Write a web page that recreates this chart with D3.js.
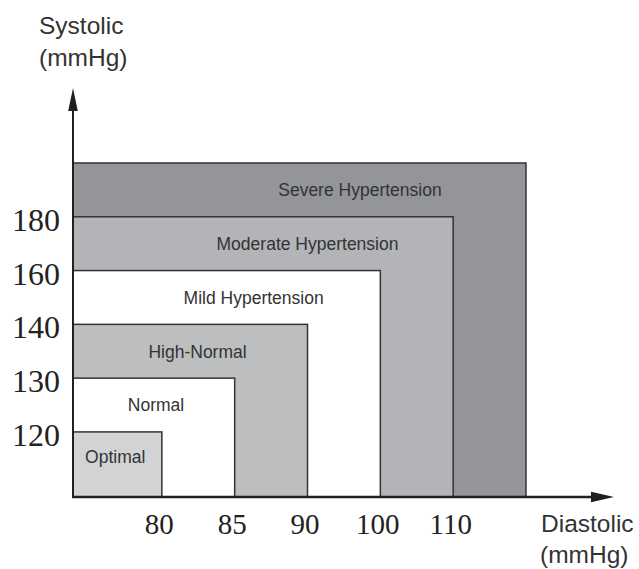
<!DOCTYPE html>
<html>
<head>
<meta charset="utf-8">
<script src="https://cdn.jsdelivr.net/npm/d3@7"></script>
<style>
  html, body { margin: 0; padding: 0; background: #fff; }
  svg { display: block; }
</style>
</head>
<body>
<svg id="chart" width="639" height="569"></svg>
<script>
// ---- data ----
const categories = ["Optimal", "Normal", "High-Normal", "Mild Hypertension", "Moderate Hypertension", "Severe Hypertension"];
const diastolicTicks = ["80", "85", "90", "100", "110"];
const systolicTicks = ["120", "130", "140", "160", "180"];
// upper bound index of each category (index into the tick lists; 5 = open-ended outer bound)
const upperIndex = [0, 1, 2, 3, 4, 5];

// ---- styles / layout ----
const fills = ["#d1d3d4", "#ffffff", "#bcbec0", "#ffffff", "#b2b4b7", "#939598"];
const labelXIndex = [-0.64, -0.08, 0.49, 1.26, 2.0, 2.72];
const labelYNudge = [-8, 0, 0, 0, 0, 0];
const sans = "'Liberation Sans', Arial, Helvetica, sans-serif";
const serif = "'Liberation Serif', 'Times New Roman', serif";
const ink = "#333";

const svg = d3.select("#chart");
const x0 = 73, x1 = 526, y0 = 497, y1 = 163;
const x = d3.scaleLinear().domain([-1.22, 5]).range([x0, x1]);
const y = d3.scaleLinear().domain([-1.21, 5]).range([y0, y1]);

// rectangles, largest first
const order = d3.range(categories.length).reverse();
svg.append("g").selectAll("rect")
  .data(order)
  .join("rect")
  .attr("x", x.range()[0])
  .attr("y", i => y(upperIndex[i]))
  .attr("width", i => x(upperIndex[i]) - x.range()[0])
  .attr("height", i => y.range()[0] - y(upperIndex[i]))
  .attr("fill", i => fills[i])
  .attr("stroke", ink)
  .attr("stroke-width", 1.5);

// category labels
svg.append("g").selectAll("text")
  .data(d3.range(categories.length))
  .join("text")
  .attr("x", i => x(labelXIndex[i]))
  .attr("y", i => {
    const lo = i === 0 ? y.range()[0] : y(upperIndex[i - 1]);
    return (lo + y(upperIndex[i])) / 2 + labelYNudge[i];
  })
  .attr("dy", "0.36em")
  .attr("text-anchor", "middle")
  .attr("font-family", sans)
  .attr("font-size", 17.5)
  .attr("fill", ink)
  .text(i => categories[i]);

// axes (ticks via d3 axes)
const xAxis = d3.axisBottom(x)
  .tickValues(d3.range(diastolicTicks.length))
  .tickFormat(i => diastolicTicks[i])
  .tickSize(0).tickPadding(16);
const gx = svg.append("g").attr("transform", `translate(0,${y0})`).call(xAxis);
gx.select(".domain").remove();
gx.selectAll("text")
  .attr("font-family", serif).attr("font-size", 29).attr("fill", "#222")
  .attr("dx", -3);

const yAxis = d3.axisLeft(y)
  .tickValues(d3.range(systolicTicks.length))
  .tickFormat(i => systolicTicks[i])
  .tickSize(0).tickPadding(13);
const gy = svg.append("g").attr("transform", `translate(${x0},0)`).call(yAxis);
gy.select(".domain").remove();
gy.selectAll("text")
  .attr("font-family", serif).attr("font-size", 32).attr("fill", "#222")
  .attr("dy", "0.42em");

// axis lines with arrows
const axisInk = "#231f20";
svg.append("line").attr("x1", x0).attr("y1", y0).attr("x2", x0).attr("y2", 108)
  .attr("stroke", axisInk).attr("stroke-width", 2);
svg.append("line").attr("x1", x0 - 1).attr("y1", y0).attr("x2", 594).attr("y2", y0)
  .attr("stroke", axisInk).attr("stroke-width", 2.3);
svg.append("path")
  .attr("d", `M${x0},88 L${x0 + 4.8},111 L${x0 - 4.8},111 Z`)
  .attr("fill", axisInk);
svg.append("path")
  .attr("d", `M614,${y0} L591,${y0 - 5.2} L591,${y0 + 5.2} Z`)
  .attr("fill", axisInk);

// axis titles
const titles = [
  { t: "Systolic", x: 39, y: 34 },
  { t: "(mmHg)", x: 39, y: 66 },
  { t: "Diastolic", x: 541, y: 532 },
  { t: "(mmHg)", x: 540, y: 563 }
];
svg.append("g").selectAll("text")
  .data(titles)
  .join("text")
  .attr("x", d => d.x).attr("y", d => d.y)
  .attr("font-family", sans).attr("font-size", 24.5).attr("fill", ink)
  .text(d => d.t);
</script>
</body>
</html>
